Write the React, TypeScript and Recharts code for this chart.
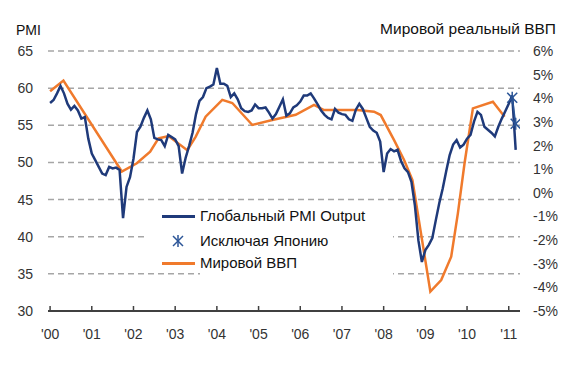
import {
  ComposedChart,
  Line,
  XAxis,
  YAxis,
  CartesianGrid,
  Legend,
} from "recharts";

// Глобальный PMI Output, помесячно с янв. 2000 по март 2011
const pmiMonthly = [
  58.0, 58.4, 59.3, 60.3, 59.3, 57.9, 57.1, 57.6, 57.0, 55.9, 56.1, 53.2,
  51.2, 50.3, 49.4, 48.5, 48.3, 49.4, 49.2, 49.3, 49.0, 42.5, 46.7, 48.0,
  50.5, 54.1, 54.8, 56.0, 57.0, 55.8, 53.3, 53.1, 53.0, 52.2, 53.7, 53.4,
  53.1, 52.2, 48.5, 50.6, 52.2, 54.0, 56.5, 58.3, 58.8, 60.0, 60.2, 60.5,
  62.7, 60.6, 60.6, 60.3, 58.8, 59.3, 58.5, 57.3, 56.9, 56.8, 57.0, 57.8,
  57.3, 57.3, 57.4, 56.7, 55.9, 56.5, 57.5, 58.5, 56.3, 56.6, 57.4, 57.7,
  58.2, 59.0, 59.0, 59.3, 58.6, 57.8, 57.0, 56.4, 56.0, 55.8, 57.2, 56.7,
  56.5, 56.4, 55.8, 55.6, 57.1, 57.9, 57.2, 56.0, 54.8, 54.3, 54.0, 52.8,
  48.7, 51.2, 51.8, 51.5, 51.7, 50.2, 49.2, 48.7, 47.4, 44.2, 39.5, 36.6,
  38.2, 38.9, 39.8, 42.2, 44.5, 46.5, 48.8, 51.0, 52.4, 53.0, 52.0, 52.4,
  53.2, 53.7, 55.5, 56.8, 56.4, 54.8, 54.4, 54.0, 53.5, 54.8, 55.9, 56.9,
  57.9, 59.0, 51.7,
];

// Исключая Японию (февр. и март 2011)
const exJapanTimes = [2011 + 1 / 12, 2011 + 2 / 12];
const exJapanValues = [58.7, 55.2];

// Мировой реальный ВВП, % г/г
const gdpTimes = [
  2000.0, 2000.32, 2001.72, 2002.08, 2002.4, 2002.6, 2002.84, 2003.29,
  2003.49, 2003.73, 2004.13, 2004.37, 2004.85, 2005.33, 2005.89, 2006.33,
  2006.57, 2007.37, 2007.77, 2007.93, 2008.25, 2008.49, 2008.69, 2009.12,
  2009.38, 2009.62, 2009.78, 2009.94, 2010.14, 2010.62, 2010.9,
];
const gdpValues = [
  4.3, 4.75, 0.9, 1.25, 1.74, 2.3, 2.4, 1.8, 2.37, 3.22, 3.93, 3.8, 2.87,
  3.08, 3.3, 3.72, 3.5, 3.5, 3.43, 3.29, 2.23, 1.39, 0.54, -4.18, -3.69,
  -2.7, -0.87, 1.25, 3.57, 3.85, 3.22,
];

const yearTicks = [2000, 2001, 2002, 2003, 2004, 2005, 2006, 2007, 2008, 2009, 2010, 2011];
const pmiTicks = [30, 35, 40, 45, 50, 55, 60, 65];
const gdpTicks = [-5, -4, -3, -2, -1, 0, 1, 2, 3, 4, 5, 6];

const pmiData = pmiMonthly.map((v, i) => ({ t: 2000 + i / 12, v }));
const exJapanData = exJapanTimes.map((t, i) => ({ t, v: exJapanValues[i] }));
const gdpData = gdpTimes.map((t, i) => ({ t, v: gdpValues[i] }));

const NAVY = "#1f3a7a";
const ORANGE = "#f07a2c";
const FONT = "Arial, 'Liberation Sans', sans-serif";

const Asterisk = ({ cx, cy }: { cx?: number; cy?: number }) => {
  if (cx == null || cy == null) return null;
  const s = 5;
  return (
    <g stroke="#2b5597" strokeWidth={1.5}>
      <line x1={cx - s} y1={cy - s} x2={cx + s} y2={cy + s} />
      <line x1={cx - s} y1={cy + s} x2={cx + s} y2={cy - s} />
      <line x1={cx} y1={cy - s - 1} x2={cx} y2={cy + s + 1} />
    </g>
  );
};

const XTick = (props: any) => {
  const { x, y, payload } = props;
  return (
    <g>
      <line x1={x} y1={y - 18} x2={x} y2={y - 23} stroke="#404040" strokeWidth={1.5} />
      <text x={x} y={y} dy="0.71em" textAnchor="middle" fontSize={14} fill="#333" fontFamily={FONT}>
        {"'" + String(payload.value).slice(2)}
      </text>
    </g>
  );
};

const legendText: React.CSSProperties = {
  position: "absolute",
  left: 53,
  fontSize: 15,
  color: "#111",
  fontFamily: FONT,
  lineHeight: "16px",
  whiteSpace: "nowrap",
};

const renderLegend = () => (
  <div style={{ position: "relative", width: 246, height: 75 }}>
    <div style={{ position: "absolute", left: 0, top: 0, width: 246, height: 63, background: "#fff" }} />
    <div style={{ position: "absolute", left: 53, top: 63, width: 193, height: 12, background: "#fff" }} />
    <div style={{ position: "absolute", left: 15, top: 10, width: 33, height: 3, background: NAVY }} />
    <div style={{ ...legendText, top: 3 }}>Глобальный PMI Output</div>
    <svg style={{ position: "absolute", left: 24, top: 29 }} width={14} height={14}>
      <Asterisk cx={7} cy={7} />
    </svg>
    <div style={{ ...legendText, top: 28 }}>Исключая Японию</div>
    <div style={{ position: "absolute", left: 15, top: 57, width: 33, height: 3, background: ORANGE }} />
    <div style={{ ...legendText, top: 50 }}>Мировой ВВП</div>
  </div>
);

export default function App() {
  return (
    <div style={{ position: "absolute", left: 0, top: 0, width: 584, height: 369, background: "#fff", fontFamily: FONT }}>
      <div style={{ position: "absolute", left: 16, top: 22, fontSize: 14, color: "#111" }}>PMI</div>
      <div style={{ position: "absolute", right: 28, top: 20, fontSize: 15.5, color: "#111", whiteSpace: "nowrap" }}>
        Мировой реальный ВВП
      </div>
      <ComposedChart width={584} height={369} margin={{ top: 51, right: 0, bottom: 28, left: 0 }}>
        <CartesianGrid
          yAxisId="left"
          vertical={false}
          stroke="#a6a6a6"
          strokeWidth={1.5}
          strokeDasharray="6 4"
        />
        <XAxis
          dataKey="t"
          type="number"
          domain={[1999.95, 2011.27]}
          allowDataOverflow
          ticks={yearTicks}
          interval={0}
          height={30}
          tickSize={0}
          tickMargin={18}
          tickLine={false}
          axisLine={{ stroke: "#404040", strokeWidth: 2 }}
          tick={<XTick />}
        />
        <YAxis
          yAxisId="left"
          orientation="left"
          width={48}
          domain={[30, 65]}
          ticks={pmiTicks}
          interval={0}
          axisLine={false}
          tickLine={false}
          tickSize={6}
          tickMargin={9}
          tick={{ fontSize: 14, fill: "#333", fontFamily: FONT }}
        />
        <YAxis
          yAxisId="right"
          orientation="right"
          width={64}
          domain={[-5, 6]}
          ticks={gdpTicks}
          interval={0}
          axisLine={false}
          tickLine={false}
          tickSize={6}
          tickMargin={7}
          tickFormatter={(v: number) => `${v}%`}
          tick={{ fontSize: 14, fill: "#333", fontFamily: FONT, textAnchor: "start" }}
        />
        <Legend
          layout="vertical"
          align="center"
          verticalAlign="middle"
          content={renderLegend}
          wrapperStyle={{ position: "absolute", left: 147, top: 205, width: 246, height: 75 }}
        />
        <Line
          yAxisId="right"
          data={gdpData}
          dataKey="v"
          type="linear"
          stroke={ORANGE}
          strokeWidth={2.5}
          dot={false}
          isAnimationActive={false}
        />
        <Line
          yAxisId="left"
          data={pmiData}
          dataKey="v"
          type="linear"
          stroke={NAVY}
          strokeWidth={2.5}
          dot={false}
          isAnimationActive={false}
        />
        <Line
          yAxisId="left"
          data={exJapanData}
          dataKey="v"
          type="linear"
          stroke="#2b5597"
          strokeWidth={1.5}
          dot={<Asterisk />}
          isAnimationActive={false}
        />
      </ComposedChart>
    </div>
  );
}
